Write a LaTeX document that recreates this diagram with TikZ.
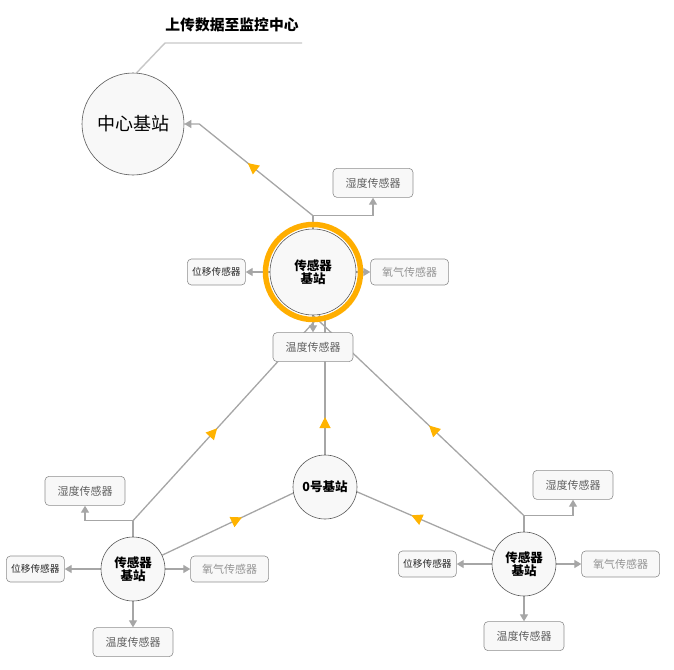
\documentclass[tikz,border=0pt]{standalone}
\usepackage{fontspec}
\setmainfont{Noto Sans CJK SC}
\usetikzlibrary{positioning}
\usetikzlibrary{arrows.meta}
\usetikzlibrary{decorations.markings}
\usetikzlibrary{backgrounds}

\definecolor{linegray}{HTML}{A6A6A6}
\definecolor{boxline}{HTML}{8E8E8E}
\definecolor{paleface}{HTML}{F8F8F8}
\definecolor{ringgold}{HTML}{FFAE00}
\definecolor{flowgold}{HTML}{FFB300}

\begin{document}
\begin{tikzpicture}[x=1pt, y=-1pt,
    stationnode/.style={circle, draw=black!65, fill=paleface, line width=0.6pt, minimum size=64pt, inner sep=0pt, align=center, font=\bfseries\fontsize{12.5}{13.5}\selectfont},
    hubnode/.style={circle, draw=black!65, fill=paleface, line width=0.6pt, minimum size=102pt, inner sep=0pt, font=\fontsize{18}{20}\selectfont},
    sensornode/.style={rectangle, rounded corners=4pt, draw=boxline, fill=paleface, line width=0.6pt, minimum width=80pt, minimum height=29pt, inner sep=0pt, text=black!62, font=\fontsize{11}{12}\selectfont},
    movenode/.style={sensornode, minimum width=58pt, minimum height=26pt, text=black!85, font=\fontsize{9.7}{11}\selectfont},
    gasnode/.style={sensornode, minimum width=78pt, minimum height=26pt, text=black!42},
    link/.style={draw=linegray, line width=1.3pt},
    feed/.style={link, -{Triangle[length=7pt, width=8pt]}},
    flow/.style={link, postaction={decorate}, decoration={markings, mark=at position #1 with {\arrow{Triangle[length=11pt, width=11pt, color=flowgold]}}}},
    leader/.style={draw=black!22, line width=1.4pt},
  ]
  \useasboundingbox (0,0) rectangle (674,669);

  %Stations
  \node[hubnode]     (hub)  at (133,124) {中心基站};
  \node[stationnode, minimum size=86pt] (top) at (313,272) {传感器\\基站};
  \node[stationnode] (zero) at (325,487) {0号基站};
  \node[stationnode] (ll)   at (133,569) {传感器\\基站};
  \node[stationnode] (lr)   at (524,564) {传感器\\基站};
  \node[font=\bfseries\fontsize{14.8}{17}\selectfont] (title) at (232,25) {上传数据至监控中心};

  %Sensors
  \node[sensornode] (topH) [above=31pt of top, xshift=60pt] {湿度传感器};
  \node[movenode]   (topM) [left=24pt of top]  {位移传感器};
  \node[gasnode]    (topG) [right=14pt of top] {氧气传感器};
  \node[sensornode] (topT) [below=17pt of top] {温度传感器};

  \node[sensornode] (llH) [above=31pt of ll, xshift=-48pt] {湿度传感器};
  \node[movenode]   (llM) [left=36pt of ll]  {位移传感器};
  \node[gasnode]    (llG) [right=25pt of ll] {氧气传感器};
  \node[sensornode] (llT) [below=26pt of ll] {温度传感器};

  \node[sensornode] (lrH) [above=32pt of lr, xshift=49pt] {湿度传感器};
  \node[movenode]   (lrM) [left=35pt of lr]  {位移传感器};
  \node[gasnode]    (lrG) [right=25pt of lr] {氧气传感器};
  \node[sensornode] (lrT) [below=25pt of lr] {温度传感器};

  %Helper points
  \coordinate[above=13pt of top] (topj);
  \coordinate[above=16pt of ll]  (llj);
  \coordinate[above=16pt of lr]  (lrj);
  \coordinate[right=15pt of hub] (bend);
  \coordinate (lead1) at (165,43);
  \coordinate (lead2) at (302,43);
  \coordinate (zeroaim) at ([yshift=9pt]zero.center);
  \coordinate (topaim)  at ([xshift=7pt]top.south);

  \draw[ringgold, line width=5.5pt] (top) circle[radius=47.5pt];

  %Lines
  \begin{scope}[on background layer]
    \draw[leader] (hub.86) -- (lead1) -- (lead2);

    \draw[link] (top) -- (topj);
    \draw[feed] (topj) -| (topH);
    \draw[feed] (top) -- (topM);
    \draw[feed] (top) -- (topG);
    \draw[feed] (top) -- (topT);
    \draw[flow=0.52, -{Triangle[length=7pt, width=8pt]}] (topj) -- (bend) -- (hub);

    \draw[link] (ll) -- (llj);
    \draw[feed] (llj) -| (llH);
    \draw[feed] (ll) -- (llM);
    \draw[feed] (ll) -- (llG);
    \draw[feed] (ll) -- (llT);

    \draw[link] (lr) -- (lrj);
    \draw[feed] (lrj) -| (lrH);
    \draw[feed] (lr) -- (lrM);
    \draw[feed] (lr) -- (lrG);
    \draw[feed] (lr) -- (lrT);

    \draw[flow=0.45] (llj) -- (topaim);
    \draw[flow=0.45] (lrj) -- (top.south);
    \draw[flow=0.27] (zero) -- (zero |- top.south);
    \draw[flow=0.49] (ll) -- (zeroaim);
    \draw[flow=0.49] (lr) -- (zeroaim);
  \end{scope}
\end{tikzpicture}
\end{document}
